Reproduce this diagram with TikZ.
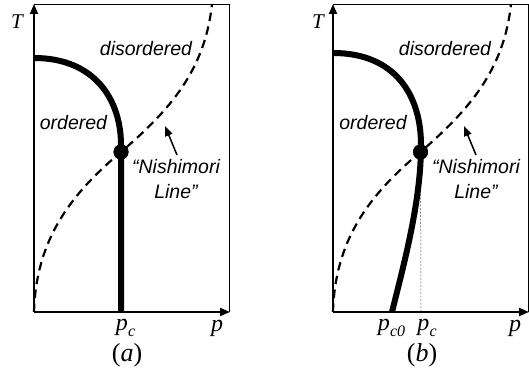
\documentclass[tikz,border=0pt]{standalone}
\usepackage{fontspec}
\setmainfont{Liberation Serif}
\newfontfamily\lsans{Liberation Sans}
\usetikzlibrary{arrows.meta}
\newcommand\psub[1]{\textit{p}\kern0.3pt\raisebox{-0.22em}{\fontsize{16}{16}\selectfont\textit{#1}}}
\begin{document}
\begin{tikzpicture}[x=1pt,y=-1pt,
  axis/.style={line width=1.8pt,-{Triangle[length=10pt,width=8pt]}},
  frame/.style={line width=0.9pt},
  phase/.style={line width=6pt},
  nish/.style={line width=2.2pt,dash pattern=on 8.5pt off 5.5pt},
  thindash/.style={line width=0.5pt,dash pattern=on 2pt off 1.5pt,black!70},
  lbl/.style={font=\lsans\itshape\fontsize{19.5}{25}\selectfont,inner sep=0pt},
  ax/.style={font=\fontsize{24}{26}\selectfont,inner sep=0pt},
  tlbl/.style={font=\itshape\fontsize{21}{23}\selectfont,inner sep=0pt},
  panellbl/.style={font=\fontsize{26}{28}\selectfont,inner sep=0pt},
  dotnode/.style={circle,fill,inner sep=0pt,minimum size=15pt},
  pointer/.style={line width=1.5pt,-{Triangle[length=10pt,width=7.5pt]}}]
\useasboundingbox (0,0) rectangle (529,379);

% ---------- panel (a) ----------
\begin{scope}
\coordinate (a-o) at (34,312);
\coordinate (a-ty) at (34,4);
\coordinate (a-px) at (230,312);
\coordinate (a-tl) at (34,4.7);
\coordinate (a-tr) at (229,4.7);
\coordinate (a-br) at (229,312);
\coordinate (a-ntop) at (212,4);
\coordinate (a-tc) at (34,58);
\coordinate (a-bend) at (121,145);
\coordinate (a-pc) at (121,312);
\coordinate (a-ptail) at (177,155);
\coordinate (a-phead) at (165,126);
\node[dotnode] (a-dot) at (121,152) {};
\draw[frame] (a-tl) -- (a-tr) -- (a-br);
\draw[nish] (a-o) .. controls (36,240) and (70,195) .. (a-dot.center)
  .. controls (170,110) and (205,70) .. (a-ntop);
\draw[phase] (a-tc) .. controls (95,58) and (121,100) .. (a-bend) -- (a-pc);
\node[dotnode] at (a-dot) {};
\draw[axis] (a-o) -- (a-ty);
\draw[axis] (a-o) -- (a-px);
\node[tlbl] (a-T) at (17,22) {T};
\node[ax] (a-p) at (217,328) {\textit{p}};
\node[ax] (a-pclbl) at (125.5,328) {\psub{c}};
\node[panellbl] (a-cap) at (127,355) {(\textit{a})};
\node[lbl] (a-dis) at (146,49) {disordered};
\node[lbl] (a-ord) at (73.5,123) {ordered};
\node[lbl,align=center] (a-nish) at (176,179) {“Nishimori\\Line”};
\draw[pointer] (a-ptail) -- (a-phead);
\end{scope}

% ---------- panel (b) ----------
\begin{scope}[xshift=299pt]
\coordinate (b-o) at (34,312);
\coordinate (b-ty) at (34,4);
\coordinate (b-px) at (230,312);
\coordinate (b-tl) at (34,4.7);
\coordinate (b-tr) at (229,4.7);
\coordinate (b-br) at (229,312);
\coordinate (b-ntop) at (212,4);
\coordinate (b-tc) at (34,53);
\coordinate (b-bend) at (122,145);
\coordinate (b-pc0) at (93,312);
\coordinate (b-pc) at (122,312);
\coordinate (b-ptail) at (177,155);
\coordinate (b-phead) at (165,126);
\node[dotnode] (b-dot) at (121.5,152) {};
\draw[frame] (b-tl) -- (b-tr) -- (b-br);
\draw[thindash] (b-dot.center) -- (b-pc);
\draw[nish] (b-o) .. controls (36,240) and (70,195) .. (b-dot.center)
  .. controls (170,110) and (205,70) .. (b-ntop);
\draw[phase] (b-tc) .. controls (96,53) and (122,95) .. (b-bend)
  .. controls (122,200) and (106,260) .. (b-pc0);
\node[dotnode] at (b-dot) {};
\draw[axis] (b-o) -- (b-ty);
\draw[axis] (b-o) -- (b-px);
\node[tlbl] (b-T) at (19,22) {T};
\node[ax] (b-p) at (216,328) {\textit{p}};
\node[ax] (b-pc0lbl) at (92.5,328) {\psub{c0}};
\node[ax] (b-pclbl) at (128,328) {\psub{c}};
\node[panellbl] (b-cap) at (123,355) {(\textit{b})};
\node[lbl] (b-dis) at (146,49) {disordered};
\node[lbl] (b-ord) at (74,123) {ordered};
\node[lbl,align=center] (b-nish) at (177,179) {“Nishimori\\Line”};
\draw[pointer] (b-ptail) -- (b-phead);
\end{scope}
\end{tikzpicture}
\end{document}
